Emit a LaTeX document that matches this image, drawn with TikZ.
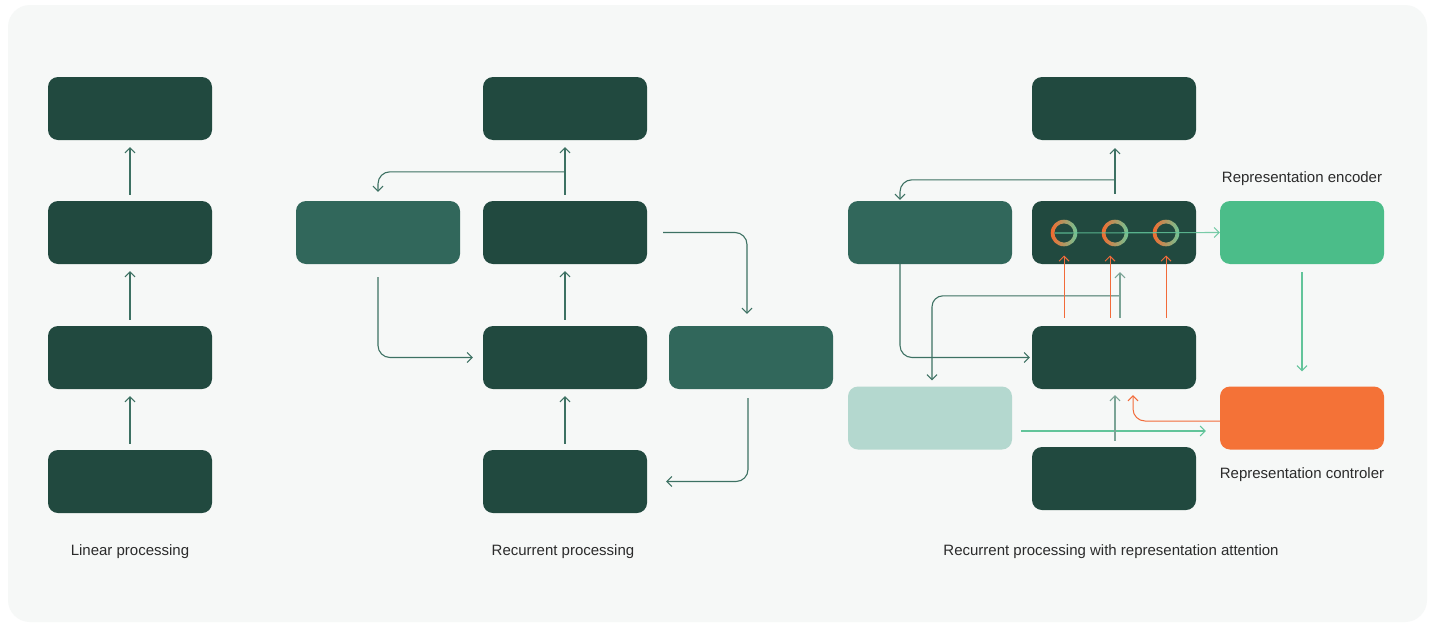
\documentclass[tikz,border=0pt]{standalone}
\usepackage{fontspec}
\setmainfont{Liberation Sans}
\usetikzlibrary{arrows.meta,calc}

\definecolor{boxdark}{HTML}{21493F}
\definecolor{boxmid}{HTML}{31675B}
\definecolor{boxlight}{HTML}{B4D8CF}
\definecolor{boxgreen}{HTML}{4BBD89}
\definecolor{boxorange}{HTML}{F47237}
\definecolor{panel}{HTML}{F6F8F7}
\definecolor{wire}{HTML}{3D7163}
\definecolor{wiresoft}{HTML}{7BA496}
\definecolor{wireorange}{HTML}{F26B3A}
\definecolor{wiregreen}{HTML}{62C49A}
\definecolor{caption}{HTML}{2B2B2B}
\definecolor{ringorange}{HTML}{F26A2E}
\definecolor{ringgreen}{HTML}{6FC597}

\tikzset{
  block/.style={rectangle, rounded corners=10pt, minimum width=164pt,
    minimum height=63pt, inner sep=0pt, draw=none},
  darkblock/.style={block, fill=boxdark},
  midblock/.style={block, fill=boxmid},
  tip/.style={-{Straight Barb[length=5pt,width=10pt,line width=1pt]}},
  arr/.style={tip, draw=wire, line width=1.1pt},
  arrsoft/.style={tip, draw=wiresoft, line width=1.6pt},
  arrorange/.style={tip, draw=wireorange, line width=1pt},
  arrgreen/.style={tip, draw=wiregreen, line width=1.1pt},
  label/.style={text=caption, font=\fontsize{15}{17}\selectfont, inner sep=0pt, anchor=base},
  ringnode/.style={circle, minimum size=26.6pt, inner sep=0pt},
}

\newcommand{\gradring}[1]{%
  \shade[even odd rule, left color=ringorange, right color=ringgreen]
    (#1) circle (13.3pt) (#1) circle (9.6pt);}

\begin{document}
\begin{tikzpicture}[x=1pt,y=-1pt]
  % canvas and panel
  \fill[white] (0,0) rectangle (1429,624);
  \useasboundingbox (0,0) rectangle (1429,624);
  \fill[panel, rounded corners=22pt] (8,5) rectangle (1427,622);

  % ---------- linear processing ----------
  \node[darkblock] (L1) at (130,108.5) {};
  \node[darkblock] (L2) at (130,232.5) {};
  \node[darkblock] (L3) at (130,357.5) {};
  \node[darkblock] (L4) at (130,481.5) {};
  \draw[arr, shorten <=6pt, shorten >=7pt] (L2) -- (L1);
  \draw[arr, shorten <=6pt, shorten >=7pt] (L3) -- (L2);
  \draw[arr, shorten <=6pt, shorten >=7pt] (L4) -- (L3);
  \node[label] (capL) at (130,555) {Linear processing};

  % ---------- recurrent processing ----------
  \node[darkblock] (MT) at (565,108.5) {};
  \node[midblock]  (MS) at (378,232.5) {};
  \node[darkblock] (M2) at (565,232.5) {};
  \node[darkblock] (M3) at (565,357.5) {};
  \node[midblock]  (MR) at (751,357.5) {};
  \node[darkblock] (M4) at (565,481.5) {};

  \draw[arr, shorten <=6pt, shorten >=7pt] (M2) -- (MT);
  \draw[arr, shorten <=6pt, shorten >=7pt] (M3) -- (M2);
  \draw[arr, shorten <=6pt, shorten >=7pt] (M4) -- (M3);
  \coordinate (mj) at ($(M2.north)+(0,-29)$);
  \draw[arr, rounded corners=12pt] (mj) -| ($(MS.north)+(0,-9)$);
  \draw[arr, rounded corners=12pt] ($(M2.east)+(16,0)$) -| ($(MR.north)+(-4,-12)$);
  \draw[arr, rounded corners=12pt] ($(MS.south)+(0,13)$) |- ($(M3.west)+(-10,0)$);
  \draw[arr, rounded corners=12pt] ($(MR.south)+(-3,9)$) |- ($(M4.east)+(19,0)$);
  \node[label] (capM) at (563,555) {Recurrent processing};

  % ---------- recurrent processing with representation attention ----------
  \node[darkblock] (RT) at (1114,108.5) {};
  \node[midblock]  (RS) at (930,232.5) {};
  \node[darkblock] (RC) at (1114,232.5) {};
  \node[block, fill=boxgreen]  (RE) at (1302,232.5) {};
  \node[darkblock] (R3) at (1114,357.5) {};
  \node[block, fill=boxlight]  (RL) at (930,418) {};
  \node[block, fill=boxorange] (RO) at (1302,418) {};
  \node[darkblock] (R4) at (1114,478.5) {};

  % attention rings inside the middle block
  \node[ringnode] (c1) at (1064,233) {};
  \node[ringnode] (c2) at (1115,233) {};
  \node[ringnode] (c3) at (1166,233) {};
  \gradring{c1}
  \gradring{c2}
  \gradring{c3}
  \draw[arrgreen, draw opacity=0.85] ($(c1.west)+(4,0)$) -- (RE.west);

  % upward flow to the output block and feedback
  \draw[arr] ($(RC.north)+(1,-7)$) -- ($(RT.south)+(1,8)$);
  \coordinate (rj) at ($(RC.north)+(1,-21)$);
  \draw[arr, rounded corners=12pt] (rj) -| ($(RS.north)+(-30,-1)$);
  \draw[arr, rounded corners=12pt] ($(RS.south)+(-30,0)$) |- ($(R3.west)+(-2,0)$);

  % from the lower block to the attention block and the memory block
  \coordinate (rk) at ($(R3.north)+(6,-30)$);
  \draw[arr, rounded corners=11pt] (rk) -| ($(RL.north)+(2,-6)$);
  \draw[arrsoft] ($(R3.north)+(6,-8)$) -- ($(RC.south)+(6,8)$);
  \draw[arrorange] ($(R3.north)+(-50,-8)$) -- ($(c1.south)+(0,9)$);
  \draw[arrorange] ($(R3.north)+(-4,-8)$) -- ($(c2.south)+(-5,9)$);
  \draw[arrorange] ($(R3.north)+(52,-8)$) -- ($(c3.south)+(0,9)$);

  % encoder to controller, and controller back to the block
  \draw[arrgreen] ($(RE.south)+(0,8)$) -- ($(RO.north)+(0,-15)$);
  \draw[arrgreen] ($(RL.east)+(9,13)$) -- ($(RO.west)+(-14,13)$);
  \draw[arrorange, rounded corners=12pt] ($(RO.west)+(0,3)$) -| ($(R3.south)+(19,6)$);
  \draw[arrsoft] ($(R4.north)+(1,-6)$) -- ($(R3.south)+(1,6)$);

  \node[label] (capE) at (1302,182) {Representation encoder};
  \node[label] (capC) at (1302,478) {Representation controler};
  \node[label] (capR) at (1111,555) {Recurrent processing with representation attention};
\end{tikzpicture}
\end{document}
